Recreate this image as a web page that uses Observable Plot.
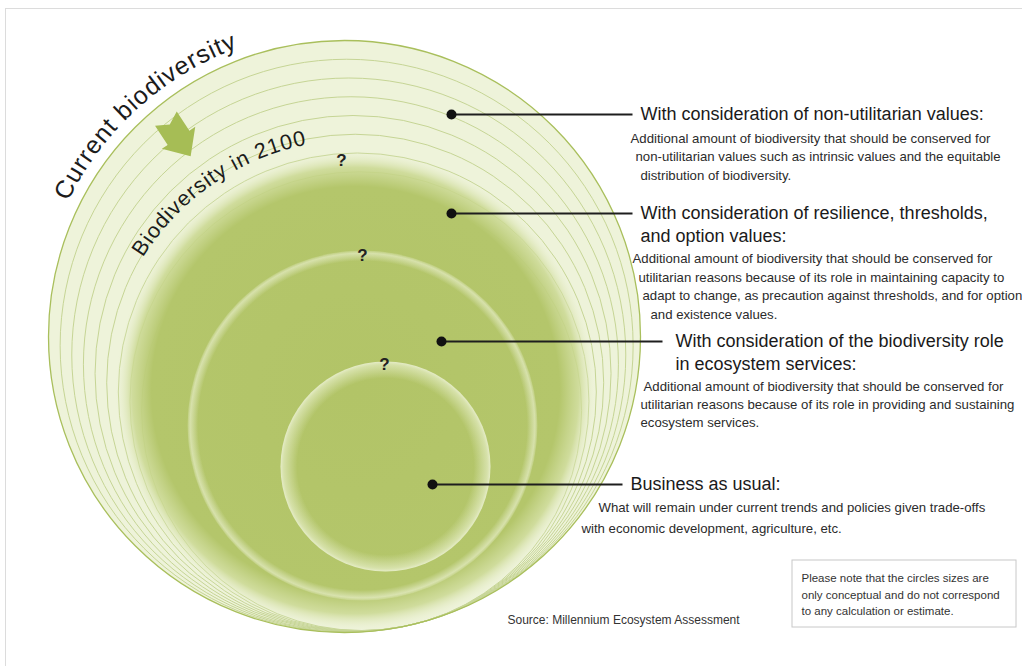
<!DOCTYPE html>
<html>
<head>
<meta charset="utf-8">
<script src="https://cdn.jsdelivr.net/npm/d3@7"></script>
<script src="https://cdn.jsdelivr.net/npm/@observablehq/plot@0.6"></script>
<style>
  html, body { margin: 0; padding: 0; background: #fff; }
  #chart svg { display: block; }
</style>
</head>
<body>
<div id="chart"></div>
<script>
// ---------------- data ----------------
const arcLabels = ["Current biodiversity", "Biodiversity in 2100"];
// radii of the thin rings that make up the "current biodiversity" band (conceptual units)
const ringRadii = [296, 286.5, 277, 267.5, 258, 248.5, 239, 229.5, 220];
// conceptual circles inside: 2100, ecosystem-services level, business as usual
const circleNames = ["Biodiversity in 2100", "Ecosystem services", "Business as usual"];
const circleRadii = [240, 175, 105];
const questionMarks = ["?", "?", "?"];
const titles = [
  ["With consideration of non-utilitarian values:"],
  ["With consideration of resilience, thresholds,", "and option values:"],
  ["With consideration of the biodiversity role", "in ecosystem services:"],
  ["Business as usual:"]
];
const descriptions = [
  ["Additional amount of biodiversity that should be conserved for",
   "non-utilitarian values such as intrinsic values and the equitable",
   "distribution of biodiversity."],
  ["Additional amount of biodiversity that should be conserved for",
   "utilitarian reasons because of its role in maintaining capacity to",
   "adapt to change, as precaution against thresholds, and for option",
   "and existence values."],
  ["Additional amount of biodiversity that should be conserved for",
   "utilitarian reasons because of its role in providing and sustaining",
   "ecosystem services."],
  ["What will remain under current trends and policies given trade-offs",
   "with economic development, agriculture, etc."]
];
const sourceText = "Source: Millennium Ecosystem Assessment";
const disclaimer = [
  "Please note that the circles sizes are",
  "only conceptual and do not correspond",
  "to any calculation or estimate."
];

// ---------------- layout ----------------
const W = 1022, H = 666;
const FONT = "'Liberation Sans', Arial, Helvetica, sans-serif";
const L = {
  tangent: [410.6, 624.3],            // rings all touch here
  tangentDir: [0.225, 0.974],
  circleCenters: [[355, 390], [362, 425], [385, 466]],
  circleFills: ["url(#g2100)", "url(#g3)", "url(#g4)"],
  qPos: [[341, 160], [362, 255], [384, 364]],
  dots: [[451, 114], [451, 213], [441, 341], [432, 484]],
  lineEnd: [632, 632, 662, 622],
  titleX: [640, 640, 675, 630],
  titleY: [114, 213, 341, 484],
  titleLH: 23,
  bodyX: [[630, 635, 640], [632, 638, 642, 650], [643, 640, 640], [598, 581]],
  bodyY0: [138, 258, 386, 507],
  bodyLH: [18.5, 18.8, 18, 21],
  arcs: [
    {cx: 344, cy: 336, R: 307, from: 154, to: 90, size: 25, len: 234},
    {cx: 355, cy: 390, R: 250, from: 148, to: 88, size: 21.5, len: 204}
  ],
  arrow: {at: [178, 137], dir: [0.55, 0.835],
          pts: [[-22, -13], [-15, 0], [-22, 13], [1, 13], [1, 20], [23, 0], [1, -20], [1, -13]]},
  source: [507, 620],
  box: {x1: 792, x2: 1016, y1: 560, y2: 627},
  discX: 801, discY0: 578, discLH: 16.5
};

// rings: each ring is tangent to the outer one at L.tangent
const rings = ringRadii.map((r, i) => ({
  i, r,
  cx: L.tangent[0] - r * L.tangentDir[0],
  cy: L.tangent[1] - r * L.tangentDir[1]
}));
const circles = circleNames.map((name, i) => ({
  name, r: circleRadii[i], cx: L.circleCenters[i][0], cy: L.circleCenters[i][1], fill: L.circleFills[i]
}));

const titleRows = titles.flatMap((lines, g) => lines.map((t, k) => ({
  text: t, x: L.titleX[g], y: L.titleY[g] + k * L.titleLH
})));
const bodyRows = descriptions.flatMap((lines, g) => lines.map((t, k) => ({
  text: t, x: L.bodyX[g][k], y: L.bodyY0[g] + k * L.bodyLH[g]
})));
const leaders = L.dots.map((d, i) => ({x1: d[0], y1: d[1], x2: L.lineEnd[i], y2: d[1]}));
const qRows = questionMarks.map((q, i) => ({text: q, x: L.qPos[i][0], y: L.qPos[i][1]}));
const discRows = disclaimer.map((t, k) => ({text: t, x: L.discX, y: L.discY0 + k * L.discLH}));

// ---------------- custom marks ----------------
function defsMark() {
  const svg = d3.create("svg:defs");
  const grad = (id, stops) => {
    const g = svg.append("radialGradient").attr("id", id).attr("cx", "50%").attr("cy", "50%").attr("r", "50%");
    stops.forEach(([o, c, a]) => g.append("stop").attr("offset", o).attr("stop-color", c).attr("stop-opacity", a));
  };
  grad("g2100", [[0, "#b2c467", 1], [0.85, "#b4c66b", 1], [0.93, "#cad891", 0.85], [1, "#eaf0d0", 0]]);
  grad("g3", [[0, "#ffffff", 0], [0.94, "#f4f7e4", 0], [0.985, "#eef3d6", 0.6], [1, "#eef3d6", 0.2]]);
  grad("g4", [[0, "#ffffff", 0], [0.84, "#e9f0cc", 0], [0.97, "#e9f0cc", 0.65], [1, "#f2f6df", 0.8]]);
  return svg.node();
}

function arcTextMark(index, {x, y}) {
  const g = d3.create("svg:g");
  arcLabels.forEach((label, i) => {
    const a = L.arcs[i];
    const p = t => [x(a.cx + a.R * Math.cos(t * Math.PI / 180)), y(a.cy - a.R * Math.sin(t * Math.PI / 180))];
    const [sx, sy] = p(a.from), [ex, ey] = p(a.to);
    const rpx = x(a.R) - x(0);
    const id = "arcpath" + i;
    g.append("path").attr("id", id).attr("fill", "none")
      .attr("d", `M${sx},${sy}A${rpx},${rpx} 0 0 1 ${ex},${ey}`);
    g.append("text").attr("font-size", a.size).attr("font-family", FONT).attr("fill", "#1b1b1b")
      .attr("text-anchor", "start")
      .append("textPath").attr("href", "#" + id).attr("startOffset", 0)
      .attr("textLength", a.len).attr("lengthAdjust", "spacing").text(label);
  });
  return g.node();
}

function arrowMark(index, {x, y}) {
  const A = L.arrow, u = A.dir, w = [u[1], -u[0]];
  const pts = A.pts.map(([s, t]) => [x(A.at[0] + s * u[0] + t * w[0]), y(A.at[1] + s * u[1] + t * w[1])]);
  return d3.create("svg:path").attr("d", "M" + pts.join("L") + "Z").attr("fill", "#a6bd55").node();
}

// ---------------- plot ----------------
const chart = Plot.plot({
  width: W, height: H, margin: 0,
  x: {domain: [0, W], range: [0, W], axis: null},
  y: {domain: [0, H], range: [0, H], axis: null},
  r: {type: "identity"},
  style: {fontFamily: FONT, background: "#fff", overflow: "visible"},
  marks: [
    defsMark,
    Plot.ruleY([8], {x1: 5, x2: W, stroke: "#dcdcdc", strokeWidth: 1}),
    Plot.ruleX([5], {y1: 8, y2: H, stroke: "#dcdcdc", strokeWidth: 1}),
    // current biodiversity band
    Plot.dot(rings.slice(0, 1), {x: "cx", y: "cy", r: "r", fill: "#eef3da", stroke: "none"}),
    Plot.dot(rings.slice(1), {x: "cx", y: "cy", r: "r", fill: "none", stroke: "#c6d595", strokeWidth: 1}),
    Plot.dot(rings.slice(0, 1), {x: "cx", y: "cy", r: "r", fill: "none", stroke: "#a9bf5c", strokeWidth: 1.3}),
    // future circles
    Plot.dot(circles, {x: "cx", y: "cy", r: "r", fill: "fill", stroke: "none"}),
    arrowMark,
    arcTextMark,
    Plot.text(qRows, {x: "x", y: "y", text: "text", fontSize: 17, fontWeight: "bold", fill: "#222"}),
    Plot.link(leaders, {x1: "x1", y1: "y1", x2: "x2", y2: "y2", stroke: "#1e1e1e", strokeWidth: 2.2}),
    Plot.dot(L.dots, {x: d => d[0], y: d => d[1], r: 5, fill: "#111", stroke: "none"}),
    Plot.text(titleRows, {x: "x", y: "y", text: "text", textAnchor: "start", lineAnchor: "middle", fontSize: 18, fill: "#1a1a1a"}),
    Plot.text(bodyRows, {x: "x", y: "y", text: "text", textAnchor: "start", lineAnchor: "middle", fontSize: 13.2, fill: "#2b2b2b"}),
    Plot.text([sourceText], {x: () => L.source[0], y: () => L.source[1], text: d => d, textAnchor: "start", lineAnchor: "middle", fontSize: 12, fill: "#333"}),
    Plot.rect([L.box], {x1: "x1", x2: "x2", y1: "y1", y2: "y2", fill: "#fff", stroke: "#c8c8c8", strokeWidth: 1}),
    Plot.text(discRows, {x: "x", y: "y", text: "text", textAnchor: "start", lineAnchor: "middle", fontSize: 11.5, fill: "#333"})
  ]
});
document.getElementById("chart").appendChild(chart);
</script>
</body>
</html>
